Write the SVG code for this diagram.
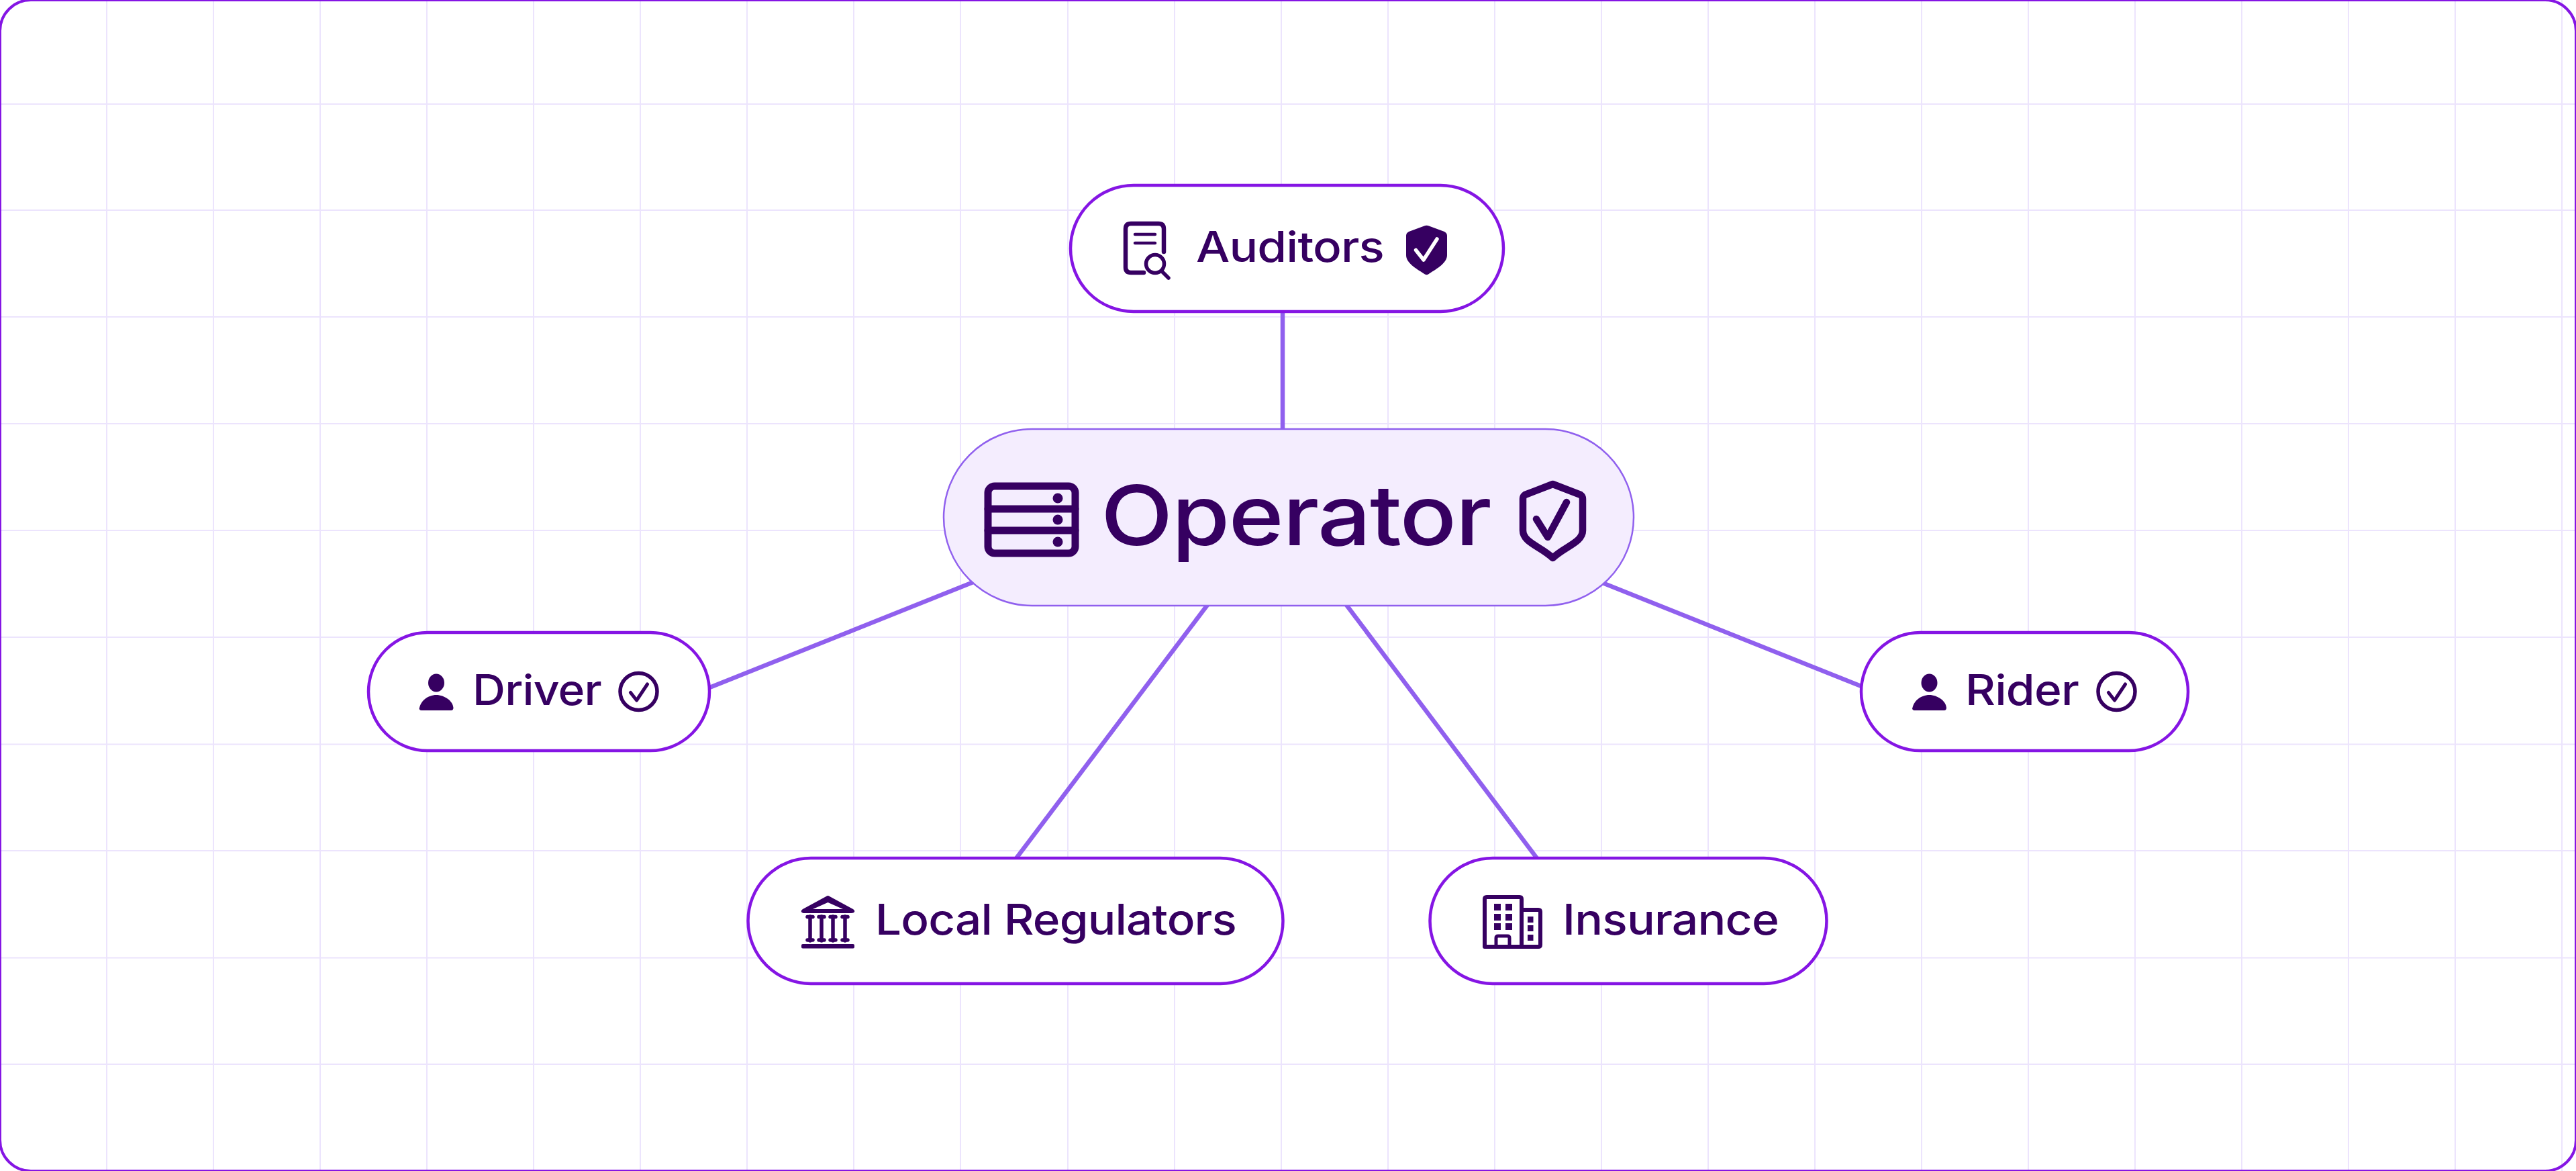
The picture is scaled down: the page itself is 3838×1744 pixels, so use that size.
<svg xmlns="http://www.w3.org/2000/svg" width="3838" height="1744" viewBox="0 0 3838 1744">
<style>
.grid line{stroke:#ECE4FD;stroke-width:2}
.conn line{stroke:#9060EE;stroke-width:6.500}
.pill{fill:#fff;stroke:#8515E4;stroke-width:4.500}
.main{fill:#F4EDFE;stroke:#9060EE;stroke-width:2.500}
text{font-family:"Inter","Liberation Sans",sans-serif;font-weight:450;fill:#360061;letter-spacing:-.012em}
.lbl{font-size:63px}
.big{font-size:124px;font-weight:500}
.ink{fill:#360061}
.ol{fill:none;stroke:#360061;stroke-linecap:round;stroke-linejoin:round}
</style>
<defs>
<g id="person"><ellipse cx="0" cy="-13" rx="12" ry="13.500" class="ink"/><path class="ink" d="M-25.500 28C-25 14-12 5 0 5S25 14 25.500 24Q25.500 28 22 28H-22Q-25.500 28-25.500 24Z"/></g>
<g id="circlecheck"><circle cx="0" cy="0" r="27.500" class="ol" stroke-width="5.500"/><path class="ol" stroke-width="5" d="M-12 1.500-3 13 13-11"/></g>
</defs>
<rect x="0" y="0" width="3838" height="1744" fill="#fff"/>
<g id="grid" class="grid">
<line x1="159" y1="0" x2="159" y2="1744"/><line x1="318" y1="0" x2="318" y2="1744"/><line x1="477" y1="0" x2="477" y2="1744"/><line x1="636" y1="0" x2="636" y2="1744"/><line x1="795" y1="0" x2="795" y2="1744"/><line x1="954" y1="0" x2="954" y2="1744"/><line x1="1113" y1="0" x2="1113" y2="1744"/><line x1="1272" y1="0" x2="1272" y2="1744"/><line x1="1431" y1="0" x2="1431" y2="1744"/><line x1="1591" y1="0" x2="1591" y2="1744"/><line x1="1750" y1="0" x2="1750" y2="1744"/><line x1="1909" y1="0" x2="1909" y2="1744"/><line x1="2068" y1="0" x2="2068" y2="1744"/><line x1="2227" y1="0" x2="2227" y2="1744"/><line x1="2386" y1="0" x2="2386" y2="1744"/><line x1="2545" y1="0" x2="2545" y2="1744"/><line x1="2704" y1="0" x2="2704" y2="1744"/><line x1="2863" y1="0" x2="2863" y2="1744"/><line x1="3022" y1="0" x2="3022" y2="1744"/><line x1="3181" y1="0" x2="3181" y2="1744"/><line x1="3340" y1="0" x2="3340" y2="1744"/><line x1="3499" y1="0" x2="3499" y2="1744"/><line x1="3658" y1="0" x2="3658" y2="1744"/><line x1="3817" y1="0" x2="3817" y2="1744"/>
<line x1="0" y1="155" x2="3838" y2="155"/><line x1="0" y1="313" x2="3838" y2="313"/><line x1="0" y1="472" x2="3838" y2="472"/><line x1="0" y1="631" x2="3838" y2="631"/><line x1="0" y1="790" x2="3838" y2="790"/><line x1="0" y1="949" x2="3838" y2="949"/><line x1="0" y1="1108.500" x2="3838" y2="1108.500"/><line x1="0" y1="1267" x2="3838" y2="1267"/><line x1="0" y1="1426.500" x2="3838" y2="1426.500"/><line x1="0" y1="1585" x2="3838" y2="1585"/>
</g>
<rect id="frame" x="0" y="0" width="3838" height="1744" rx="46" fill="none" stroke="#8515E4" stroke-width="4"/>
<g id="connectors" class="conn">
<line x1="1911" y1="460" x2="1911" y2="645"/>
<line x1="1056" y1="1024.500" x2="1455" y2="865"/>
<line x1="2380" y1="865" x2="2778" y2="1024"/>
<line x1="1805" y1="893" x2="1512" y2="1281"/>
<line x1="2000" y1="893" x2="2292" y2="1281"/>
</g>
<g id="node-operator">
<rect class="main" x="1406" y="639" width="1028" height="263" rx="131.500"/>
<rect class="ol" x="1472" y="724" width="130" height="100" rx="10" stroke-width="11"/>
<path class="ol" stroke-width="11" d="M1472 758H1602M1472 790H1602"/>
<circle class="ink" cx="1576" cy="742" r="7.500"/><circle class="ink" cx="1576" cy="774" r="7.500"/><circle class="ink" cx="1576" cy="807" r="7.500"/>
<text class="big" x="1640" y="812" textLength="581" lengthAdjust="spacingAndGlyphs">Operator</text>
<path class="ol" stroke-width="10.500" d="M2313.500 721 L2272 737 Q2269 739 2269 743 V790 C2269 808 2296 814 2313.500 831 C2331 814 2358 808 2358 790 V743 Q2358 739 2355 737 Z"/>
<path class="ol" stroke-width="10.500" d="M2289 773 2306 800 2334 748"/>
</g>
<g id="node-auditors">
<rect class="pill" x="1595" y="276" width="645" height="188" rx="94"/>
<path class="ol" stroke-width="6.500" stroke-linecap="butt" d="M1704 406H1685Q1677 406 1677 398V341Q1677 333 1685 333H1726Q1734 333 1734 341V375"/>
<path class="ol" stroke-width="4.500" d="M1691 349H1721M1691 362H1721"/>
<circle class="ol" cx="1721" cy="393" r="13.500" stroke-width="5.500"/>
<path class="ol" stroke-width="5.500" d="M1731 404 1741 414"/>
<text class="lbl" x="1782" y="390" textLength="280" lengthAdjust="spacingAndGlyphs">Auditors</text>
<path class="ink" d="M2122 336.500Q2125.500 335 2129 336.500L2152 345Q2156 347 2156 351V380C2156 393 2137 402 2128 408.500Q2125.500 410 2123 408.500C2114 402 2095 393 2095 380V351Q2095 347 2099 345Z"/>
<path fill="none" stroke="#fff" stroke-width="5.500" stroke-linecap="round" stroke-linejoin="round" d="M2109.500 372.500 2121 387 2141 356"/>
</g>
<g id="node-driver">
<rect class="pill" x="549" y="942" width="508" height="176" rx="88"/>
<use href="#person" x="650" y="1030"/>
<text class="lbl" x="704" y="1050" textLength="192" lengthAdjust="spacingAndGlyphs">Driver</text>
<use href="#circlecheck" x="951.500" y="1030"/>
</g>
<g id="node-rider">
<rect class="pill" x="2773" y="942" width="487" height="176" rx="88"/>
<use href="#person" x="2874.500" y="1030"/>
<text class="lbl" x="2928" y="1050" textLength="169" lengthAdjust="spacingAndGlyphs">Rider</text>
<use href="#circlecheck" x="3153.500" y="1030"/>
</g>
<g id="node-regulators">
<rect class="pill" x="1114.500" y="1278" width="797" height="187" rx="93.500"/>
<path class="ink" d="M1231 1335Q1233.500 1333 1236 1335L1271 1354Q1274 1356 1273 1358 1272 1360 1268 1360H1199Q1195 1360 1194 1358 1193 1356 1196 1354Z"/>
<path d="M1233.500 1344 1211 1354H1256Z" fill="#fff"/>
<path class="ol" stroke-width="5.500" stroke-linecap="butt" d="M1207 1365V1401M1224 1365V1401M1241 1365V1401M1259 1365V1401"/>
<path class="ol" stroke-width="5.500" d="M1203 1365.500H1211M1220 1365.500H1228M1237 1365.500H1245M1255 1365.500H1263M1203 1400H1211M1220 1400H1228M1237 1400H1245M1255 1400H1263"/>
<rect class="ink" x="1194" y="1406" width="79" height="6.500" rx="2"/>
<text class="lbl" x="1304" y="1392" textLength="538" lengthAdjust="spacingAndGlyphs">Local Regulators</text>
</g>
<g id="node-insurance">
<rect class="pill" x="2130.500" y="1278" width="591" height="187" rx="93.500"/>
<path class="ol" stroke-width="6" d="M2212 1410V1339Q2212 1336 2215 1336H2264Q2267 1336 2267 1339V1410M2267 1355H2292Q2295 1355 2295 1358V1407Q2295 1410 2292 1410H2215Q2212 1410 2212 1407"/>
<path class="ol" stroke-width="5" stroke-linecap="butt" d="M2229 1410V1397Q2229 1394 2232 1394H2246Q2249 1394 2249 1397V1410"/>
<path class="ink" d="M2226 1346h10v10h-10zM2243 1346h10v10h-10zM2226 1361h10v10h-10zM2243 1361h10v10h-10zM2226 1375h10v10h-10zM2243 1375h10v10h-10zM2276 1365h8.500v9h-8.500zM2276 1378h8.500v9h-8.500zM2276 1392h8.500v9h-8.500z"/>
<text class="lbl" x="2328" y="1392" textLength="322" lengthAdjust="spacingAndGlyphs">Insurance</text>
</g>
</svg>
